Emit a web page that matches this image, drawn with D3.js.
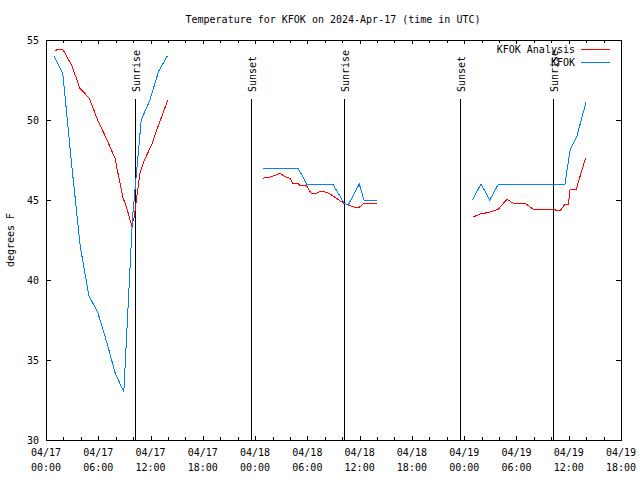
<!DOCTYPE html>
<html><head><meta charset="utf-8">
<script src="https://cdn.jsdelivr.net/npm/d3@7"></script>
<style>
body{margin:0;background:#fff;}
text{font-family:"DejaVu Sans Mono",monospace;font-size:10px;fill:#000;}
</style></head>
<body>
<svg id="chart" width="640" height="480"></svg>
<script>
// Hours since 2024-04-17 00:00 UTC
const analysisHours = [1.03,1.41,1.92,2.93,3.90,4.97,5.93,6.93,7.92,8.18,8.49,8.80,9.33,9.84,10.14,10.41,10.79,11.17,11.56,12.13,12.71,13.28,13.97,
  null,
  24.87,25.91,26.86,27.43,28.01,28.32,28.96,29.16,29.92,30.42,30.88,31.45,32.02,32.60,33.37,34.13,34.70,35.47,35.85,36.54,37.19,37.96,
  null,
  48.98,49.82,50.59,51.34,51.92,52.49,52.95,53.45,53.83,54.79,55.18,55.94,57.28,57.66,58.43,59.00,59.49,59.95,60.15,60.84,61.29,61.95];
const analysisTemp = [54.33,54.42,54.42,53.44,51.98,51.36,50.0,48.84,47.61,46.88,46.06,45.21,44.38,43.38,43.96,45.13,46.69,47.31,47.81,48.44,49.38,50.21,51.25,
  null,
  46.36,46.46,46.67,46.46,46.36,46.04,46.04,45.88,45.88,45.42,45.38,45.54,45.5,45.38,45.1,44.8,44.69,44.54,44.5,44.8,44.8,44.75,
  null,
  43.92,44.13,44.2,44.31,44.42,44.79,45.04,44.86,44.75,44.79,44.73,44.42,44.42,44.38,44.38,44.31,44.69,44.69,45.63,45.63,46.46,47.64];

const obsHours = [0.93,1.93,2.93,3.93,4.93,5.93,6.93,7.93,8.93,9.93,10.93,11.93,12.93,13.93,
  null,
  24.93,25.93,26.93,27.93,28.93,29.93,30.93,31.93,32.93,34.21,34.70,35.96,36.50,37.96,
  null,
  48.93,49.93,50.93,51.93,52.93,53.93,54.93,55.93,56.93,57.93,58.93,59.57,60.15,60.92,61.98];
const obsTemp = [54.0,52.9,47.3,42.1,39.0,38.0,36.2,34.2,33.0,43.9,50.0,51.25,53.06,54.0,
  null,
  47.0,47.0,47.0,47.0,47.0,46.0,46.0,46.0,46.0,44.8,44.7,46.0,45.0,45.0,
  null,
  45.0,46.0,45.0,46.0,46.0,46.0,46.0,46.0,46.0,46.0,46.0,46.0,48.1,48.96,51.1];

const sunEvents = [
  {h:10.22, label:"Sunrise"},
  {h:23.50, label:"Sunset"},
  {h:34.20, label:"Sunrise"},
  {h:47.52, label:"Sunset"},
  {h:58.17, label:"Sunrise"}
];
const yTicks = [30,35,40,45,50,55];
const seriesNames = ["KFOK Analysis","KFOK"];
const seriesColors = ["#ff0000","#0080ff"];
const titleText = "Temperature for KFOK on 2024-Apr-17 (time in UTC)";
const yLabel = "degrees F";

const t0 = Date.UTC(2024,3,17,0,0);
const toDate = h => new Date(t0 + h*3600e3);

const svg = d3.select("#chart");
const L = 46, R = 621, T = 40, B = 440;
const x = d3.scaleUtc().domain([toDate(0), toDate(66)]).range([L, R]);
const y = d3.scaleLinear().domain([30,55]).range([B, T]);

const fmtD = d3.utcFormat("%m/%d"), fmtT = d3.utcFormat("%H:%M");
const majors = d3.range(0, 67, 6).map(toDate);
const minors = d3.range(0, 67, 2).filter(h => h % 6 !== 0).map(toDate);

const g = svg.append("g").attr("shape-rendering","crispEdges");
// ticks
const tk = g.append("g").attr("stroke","#000").attr("stroke-width",1);
majors.forEach(d => {
  const px = Math.round(x(d)) + 0.5;
  tk.append("line").attr("x1",px).attr("x2",px).attr("y1",B).attr("y2",B-4);
  tk.append("line").attr("x1",px).attr("x2",px).attr("y1",T).attr("y2",T+4);
});
minors.forEach(d => {
  const px = Math.round(x(d)) + 0.5;
  tk.append("line").attr("x1",px).attr("x2",px).attr("y1",B).attr("y2",B-3);
  tk.append("line").attr("x1",px).attr("x2",px).attr("y1",T).attr("y2",T+3);
});
yTicks.forEach(v => {
  const py = Math.round(y(v)) + 0.5;
  tk.append("line").attr("x1",L).attr("x2",L+5).attr("y1",py).attr("y2",py);
  tk.append("line").attr("x1",R).attr("x2",R-5).attr("y1",py).attr("y2",py);
});

// x labels
const xl = svg.append("g");
majors.forEach(d => {
  const px = x(d);
  xl.append("text").attr("x",px).attr("y",456).attr("text-anchor","middle").text(fmtD(d));
  xl.append("text").attr("x",px).attr("y",471).attr("text-anchor","middle").text(fmtT(d));
});
// y labels
yTicks.forEach(v => {
  svg.append("text").attr("x",39).attr("y",y(v)+4).attr("text-anchor","end").text(v);
});
svg.append("text").attr("transform","translate(14,240) rotate(-90)").attr("text-anchor","middle").text(yLabel);
svg.append("text").attr("x",333).attr("y",23).attr("text-anchor","middle").text(titleText);

// sun lines
sunEvents.forEach(e => {
  const px = Math.round(x(toDate(e.h))) + 0.5;
  g.append("line").attr("x1",px).attr("x2",px).attr("y1",99).attr("y2",B).attr("stroke","#000");
  svg.append("text").attr("transform",`translate(${px+4},92) rotate(-90)`).attr("text-anchor","start").text(e.label);
});

// series
const line = d3.line()
  .defined(d => d[0] !== null && d[1] !== null)
  .x(d => x(toDate(d[0]))).y(d => y(d[1]));
const aData = analysisHours.map((h,i) => [h, analysisTemp[i]]);
const oData = obsHours.map((h,i) => [h, obsTemp[i]]);
svg.append("path").attr("d", line(aData)).attr("fill","none").attr("stroke",seriesColors[0]).attr("stroke-width",1).attr("shape-rendering","crispEdges");
svg.append("path").attr("d", line(oData)).attr("fill","none").attr("stroke",seriesColors[1]).attr("stroke-width",1).attr("shape-rendering","crispEdges");

// legend
seriesNames.forEach((n,i) => {
  const ly = 49 + i*13;
  svg.append("text").attr("x",575).attr("y",ly+4).attr("text-anchor","end").text(n);
  g.append("line").attr("x1",581).attr("x2",610).attr("y1",ly+0.5).attr("y2",ly+0.5).attr("stroke",seriesColors[i]);
});

// frame
g.append("rect").attr("x",L+0.5).attr("y",T+0.5).attr("width",R-L).attr("height",B-T).attr("fill","none").attr("stroke","#000");
</script>
</body></html>
